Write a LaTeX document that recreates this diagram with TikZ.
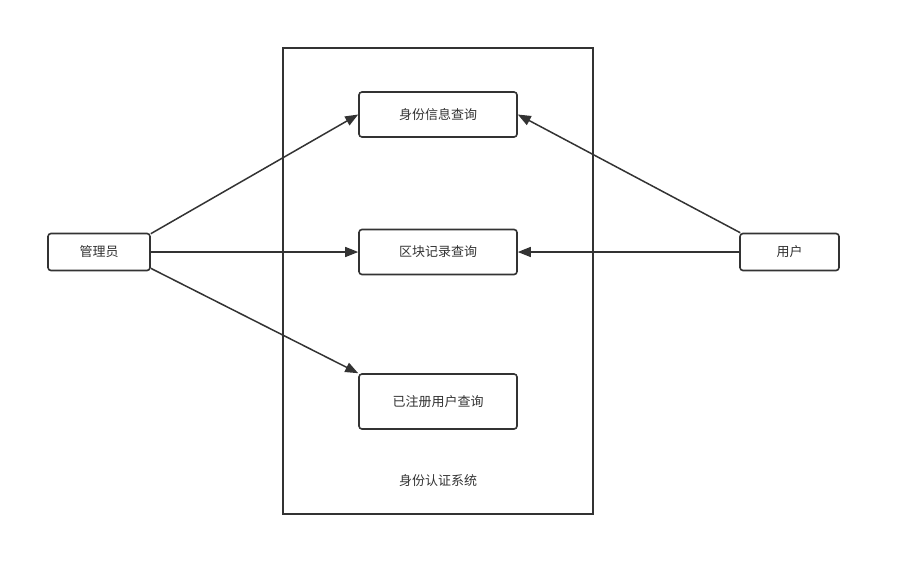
\documentclass[tikz,border=0pt]{standalone}
\usepackage{fontspec}
\newfontfamily\cjk{Noto Sans CJK SC}
\usetikzlibrary{arrows.meta}
\definecolor{ln}{HTML}{333333}
\tikzset{
  lbl/.style={font=\cjk\fontsize{13}{15}\selectfont, text=ln},
  box/.style={draw=ln, line width=1.6pt, rounded corners=3pt, fill=white, inner sep=0pt, lbl},
  conn/.style={draw=ln, line width=1.5pt, -{Stealth[length=13pt, width=10pt, inset=0pt]}},
}
\begin{document}
\begin{tikzpicture}[x=1pt, y=-1pt]
\useasboundingbox (0,0) rectangle (901,576);
\node[draw=ln, line width=1.4pt, minimum width=310pt, minimum height=466pt, inner sep=0pt] (sys) at (438,281) {};
\node[lbl] (syslabel) at (438,481) {身份认证系统};
\node[box, minimum width=102pt, minimum height=37pt] (admin) at (99,252) {管理员};
\node[box, minimum width=158pt, minimum height=45pt] (q1) at (438,114.5) {身份信息查询};
\node[box, minimum width=158pt, minimum height=45pt] (q2) at (438,252) {区块记录查询};
\node[box, minimum width=158pt, minimum height=55pt] (q3) at (438,401.5) {已注册用户查询};
\node[box, minimum width=99pt, minimum height=37pt] (user) at (789.5,252) {用户};
\draw[conn] (admin.north east) ++(0,1) -- (q1.west);
\draw[conn] (admin.east) -- (q2.west);
\draw[conn] (admin.south east) ++(0,-3) -- (q3.north west);
\draw[conn] (user.north west) ++(1,0) -- (q1.east);
\draw[conn] (user.west) -- (q2.east);
\end{tikzpicture}
\end{document}
